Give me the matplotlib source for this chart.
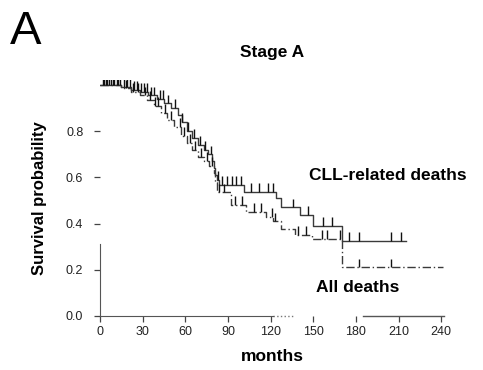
import matplotlib
matplotlib.use("Agg")
import matplotlib.pyplot as plt
import numpy as np

plt.rcParams['font.family'] = ['Liberation Sans', 'DejaVu Sans']

# ---- data ----
t_cll = [0, 15, 22, 28, 34, 40, 45, 50, 55, 58, 61, 65, 69, 73, 76, 79, 80, 81,
         82, 84, 101, 124, 127, 141, 150, 170]
s_cll = [1.0, 0.99, 0.98, 0.97, 0.955, 0.94, 0.92, 0.90, 0.87, 0.84, 0.80, 0.77,
         0.74, 0.72, 0.70, 0.67, 0.64, 0.61, 0.59, 0.567, 0.537, 0.51, 0.47,
         0.437, 0.39, 0.325]
end_cll = 215

t_all = [0, 15, 22, 28, 33, 38, 43, 47, 52, 57, 61, 65, 69, 73, 77, 80, 81, 82,
         92, 103, 117, 122, 127, 137, 149, 170]
s_all = [1.0, 0.985, 0.97, 0.955, 0.935, 0.91, 0.88, 0.85, 0.82, 0.78, 0.75,
         0.72, 0.69, 0.67, 0.65, 0.62, 0.58, 0.535, 0.48, 0.45, 0.43, 0.41,
         0.377, 0.35, 0.335, 0.21]
end_all = 241

cens_cll = [2, 4, 6, 8, 10, 12, 14, 17, 19, 21, 24, 26, 29, 31, 33, 36, 38, 42,
            44, 48, 53, 58, 62, 66, 70, 74, 78, 83, 86, 89, 93, 96, 99, 106, 112,
            118, 122, 136, 146, 157, 163, 175, 182, 205, 212]
cens_all = [3, 5, 9, 13, 18, 23, 27, 32, 35, 39, 41, 46, 50, 56, 59, 63, 67, 71,
            75, 79, 84, 87, 95, 100, 108, 113, 121, 123, 139, 145, 156, 160,
            169, 182, 205]

x_ticks = [0, 30, 60, 90, 120, 150, 180, 210, 240]
y_ticks = [0.0, 0.2, 0.4, 0.6, 0.8]


def step_value(ts, ss, t):
    idx = np.searchsorted(ts, t, side='right') - 1
    return ss[max(idx, 0)]


fig = plt.figure(figsize=(4.83, 3.70), dpi=100)
ax = fig.add_axes([100 / 483, 54 / 370, 344 / 483, 235.6 / 370])
ax.set_xlim(0, 242)
ax.set_ylim(0, 1.02)

line_col = '#3a3a3a'
# CLL-related deaths (upper, solid)
ax.step(t_cll + [end_cll], s_cll + [s_cll[-1]], where='post',
        color=line_col, lw=1.0)
# All deaths (lower, dashed)
ax.step(t_all + [end_all], s_all + [s_all[-1]], where='post',
        color=line_col, lw=1.0, linestyle=(0, (6, 2, 1, 2)))

# censor marks
h = 0.038
yc = [step_value(t_cll, s_cll, t) for t in cens_cll]
ax.vlines(cens_cll, yc, np.array(yc) + h, color='#111111', lw=1.0)
ya = [step_value(t_all, s_all, t) for t in cens_all]
ax.vlines(cens_all, ya, np.array(ya) + h, color='#111111', lw=1.0)

# axes styling
for sp in ['top', 'right']:
    ax.spines[sp].set_visible(False)
ax.spines['left'].set_bounds(0, 0.31)
ax.spines['bottom'].set_bounds(0, 122)
ax.spines['left'].set_color('#555555')
ax.spines['bottom'].set_color('#555555')
ax.plot([122, 136], [0, 0], color='#777777', lw=1.0, linestyle=':',
        clip_on=False)
ax.plot([185, 242], [0, 0], color='#555555', lw=1.0, clip_on=False)

ax.set_xticks(x_ticks)
ax.set_xticklabels([str(v) for v in x_ticks])
ax.set_yticks(y_ticks)
ax.set_yticklabels(['%.1f' % v for v in y_ticks])
ax.tick_params(axis='both', direction='out', length=4, width=0.9,
               color='#444444', labelsize=9, labelcolor='#222222')
ax.tick_params(axis='y', pad=8)
ax.tick_params(axis='x', pad=3)

ax.set_xlabel('months', fontsize=12.5, fontweight='bold', labelpad=8)
ax.set_ylabel('Survival probability', fontsize=12, fontweight='bold',
              labelpad=14)

ax.text(0.5, 1.12, 'Stage A', transform=ax.transAxes, ha='center',
        va='center', fontsize=12.5, fontweight='bold')
fig.text(10 / 483, 1 - 32 / 370, 'A', fontsize=34, ha='left', va='center')

ax.text(147, 0.61, 'CLL-related deaths', ha='left', va='center',
        fontsize=12.5, fontweight='bold')
ax.text(152, 0.125, 'All deaths', ha='left', va='center',
        fontsize=12.5, fontweight='bold')

fig.savefig('out.png', dpi=100)
